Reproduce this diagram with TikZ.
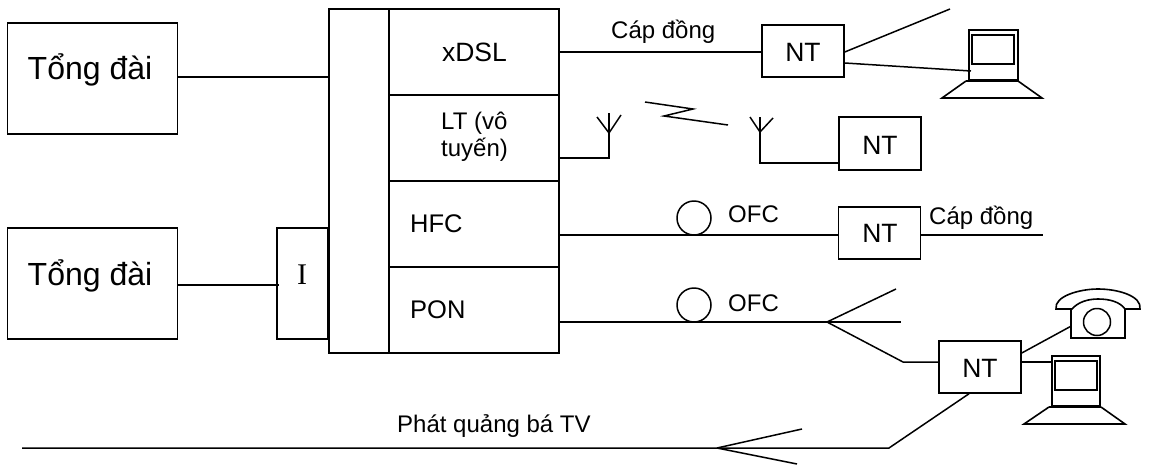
\documentclass[tikz,border=0pt]{standalone}
\usepackage{fontspec}
\setmainfont{Liberation Sans}
\newfontfamily\serifi{Liberation Serif}
\tikzset{
 x=1pt,y=-1pt,
 wire/.style={draw=black,line width=1.5pt,line join=miter},
 boxn/.style={draw=black,line width=1.5pt,fill=white,inner sep=0pt},
 txt/.style={inner sep=0pt,anchor=base,font=\fontsize{26.5}{28}\selectfont},
 txtw/.style={inner sep=0pt,anchor=base west,font=\fontsize{24}{28}\selectfont},
 big/.style={inner sep=0pt,anchor=base,font=\fontsize{32}{36}\selectfont},
 ring/.style={circle,draw=black,line width=1.5pt,fill=white,minimum size=34pt,inner sep=0pt},
 bxnt/.style={boxn,minimum width=82pt,minimum height=52pt},
 cell/.style={boxn,minimum width=170pt,minimum height=86pt},
}
\begin{document}
\begin{tikzpicture}
\useasboundingbox (0,0) rectangle (1149,464);
\fill[white] (0,0) rectangle (1149,464);
% exchanges
\node[boxn,minimum width=170pt,minimum height=111pt] (ex1) at (92.5,78.5) {};
\node[big] (ex1t) at (90,79) {Tổng đài};
\node[boxn,minimum width=170pt,minimum height=111pt] (ex2) at (92.5,283.5) {};
\node[big] (ex2t) at (90,285) {Tổng đài};
\node[boxn,minimum width=51pt,minimum height=111pt] (I) at (302.5,283.5) {};
\node[inner sep=0pt,anchor=base,font=\serifi\fontsize{30}{32}\selectfont] (It) at (302,284) {I};
\node[boxn,minimum width=60pt,minimum height=344pt] (bar) at (359,181) {};
\node[cell] (xdsl) at (474,52) {};
\node[txt] (xdslt) at (474.5,61) {xDSL};
\node[cell] (lt) at (474,138) {};
\node[txtw] (lt1) at (441,129) {LT (vô};
\node[txtw] (lt2) at (441,156) {tuyến)};
\node[cell] (hfc) at (474,224) {};
\node[txtw,font=\fontsize{25.5}{28}\selectfont] (hfct) at (410,232) {HFC};
\node[cell] (pon) at (474,310) {};
\node[txtw,font=\fontsize{25.5}{28}\selectfont] (pont) at (410,318) {PON};
\node[bxnt] (nt1) at (803,51) {};
\node[txt] (nt1t) at (803,61) {NT};
\node[bxnt,minimum height=53pt] (nt2) at (880,143.5) {};
\node[txt] (nt2t) at (880,154) {NT};
\node[bxnt] (nt3) at (879.5,233) {};
\node[txt] (nt3t) at (880,242) {NT};
\node[bxnt] (nt4) at (980,367) {};
\node[txt] (nt4t) at (980,377) {NT};
% left connections
\draw[wire] (ex1.east |- 0,77) -- (bar.west |- 0,77);
\draw[wire] (ex2.east |- 0,285) -- (I.west |- 0,285) -- ++(3,0);
% xDSL
\coordinate (c1) at (950,9);
\draw[wire] (xdsl.east |- 0,52) -- (nt1.west |- 0,52);
\draw[wire] (nt1.east |- 0,52) -- (c1);
\coordinate (pc1) at (971,71);
\draw[wire] (nt1.east |- 0,63) -- (pc1);
\node[txtw] (cd1) at (611,38) {Cáp đồng};
% computer 1
\draw[line width=1.6pt] (969,30) rectangle (1018,80);
\draw[line width=1.6pt] (972,35) rectangle (1014,64);
\draw[line width=2.2pt] (966,81) -- (1018,81);
\draw[line width=1.6pt] (966,81) -- (942,98) -- (1042,98) -- (1018,81);
% radio
\coordinate (a1t) at (609,113);
\draw[wire] (lt.east |- 0,158) -- (609,158) -- (a1t);
\draw[wire] (597,117) -- (609,133) -- (621,115);
\draw[wire] (645,102) -- (693,109) -- (664,116) -- (728,125);
\draw[wire] (nt2.west |- 0,163) -- (760,163) -- (760,117);
\draw[wire] (750,117) -- (760,132) -- (773,118);
% HFC
\draw[wire] (hfc.east |- 0,235) -- (nt3.west |- 0,235);
\node[ring] (o1) at (694,218) {};
\node[txtw] (ofc1) at (728,222) {OFC};
\node[txtw] (cd2) at (929,224) {Cáp đồng};
\coordinate (e3) at (1043,235);
\draw[wire] (nt3.east |- 0,235) -- (e3);
% PON
\coordinate (fork) at (827,322);
\coordinate (f1) at (901,322);
\coordinate (f2) at (896,289);
\coordinate (f3) at (903,362);
\draw[wire] (pon.east |- 0,322) -- (f1);
\draw[wire] (fork) -- (f2);
\draw[wire] (fork) -- (f3) -- (nt4.west |- 0,362);
\node[ring] (o2) at (694,305) {};
\node[txtw] (ofc2) at (728,311) {OFC};
% NT4 links
\draw[wire] (nt4.east |- 0,353) -- (1075,324);
\draw[wire] (nt4.east |- 0,362) -- (1052,362);
% phone
\draw[line width=1.6pt,fill=white] (1071,308) -- (1071,338) -- (1125,338) -- (1125,308);
\node[circle,draw=black,line width=1.5pt,minimum size=27pt,inner sep=0pt] (dial) at (1097,322) {};
\draw[line width=1.6pt] (1056,309) .. controls (1054,296) and (1080,289) .. (1098,289) .. controls (1118,289) and (1142,296) .. (1140,309) -- (1125,309) .. controls (1120,302) and (1110,299) .. (1098,299) .. controls (1088,299) and (1078,302) .. (1072,309) -- cycle;
% computer 2
\draw[line width=1.6pt,fill=white] (1052,356) rectangle (1100,406);
\draw[line width=1.6pt] (1055,361) rectangle (1097,390);
\draw[line width=2.2pt] (1049,407) -- (1101,407);
\draw[line width=1.6pt] (1049,407) -- (1024,424) -- (1125,424) -- (1101,407);
% broadcast
\coordinate (b0) at (22,448);
\coordinate (bf) at (717,448);
\coordinate (bk) at (889,448);
\draw[wire] (b0) -- (bk) -- (nt4.south -| 969,0);
\draw[wire] (bf) -- (802,429);
\draw[wire] (bf) -- (797,464);
\node[txtw] (tv) at (397,432) {Phát quảng bá TV};
\end{tikzpicture}
\end{document}
